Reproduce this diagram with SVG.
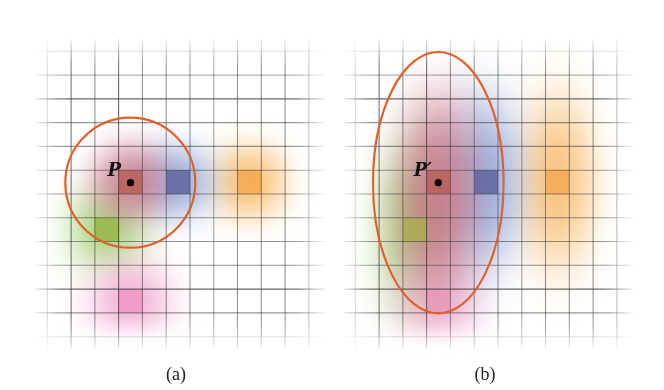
<svg xmlns="http://www.w3.org/2000/svg" width="664" height="390" viewBox="0 0 664 390">
<defs>
<filter id="bA" x="-200%" y="-200%" width="500%" height="500%"><feGaussianBlur stdDeviation="16"/></filter>
<filter id="bA2" x="-200%" y="-200%" width="500%" height="500%"><feGaussianBlur stdDeviation="19"/></filter>
<filter id="bB" x="-200%" y="-200%" width="500%" height="500%"><feGaussianBlur stdDeviation="17 32"/></filter>
<filter id="bB2" x="-200%" y="-200%" width="500%" height="500%"><feGaussianBlur stdDeviation="19 36"/></filter>
<filter id="mb" x="-20%" y="-20%" width="140%" height="140%"><feGaussianBlur stdDeviation="13"/></filter>
<filter id="mb2" x="-20%" y="-20%" width="140%" height="140%"><feGaussianBlur stdDeviation="10"/></filter>
<mask id="mL" maskUnits="userSpaceOnUse" x="0" y="0" width="664" height="390"><rect x="46" y="50" width="266" height="288" fill="#fff" filter="url(#mb)"/></mask>
<mask id="mR" maskUnits="userSpaceOnUse" x="0" y="0" width="664" height="390"><rect x="354" y="50" width="266" height="288" fill="#fff" filter="url(#mb)"/></mask>
<mask id="kL" maskUnits="userSpaceOnUse" x="0" y="0" width="664" height="390"><rect x="44" y="48" width="272" height="285" fill="#fff" filter="url(#mb2)"/></mask>
<mask id="kR" maskUnits="userSpaceOnUse" x="0" y="0" width="664" height="390"><rect x="352" y="48" width="272" height="285" fill="#fff" filter="url(#mb2)"/></mask>
<g id="grid">
<g stroke="#3a3a3a" stroke-width="1.1" fill="none">
<path d="M47.3 39V348" opacity="0.35"/>
<path d="M71.1 39V348" opacity="0.7"/>
<path d="M94.9 39V348" opacity="0.55"/>
<path d="M118.6 39V348" opacity="0.75"/>
<path d="M142.4 39V348" opacity="0.55"/>
<path d="M166.2 39V348" opacity="0.55"/>
<path d="M190 39V348" opacity="0.55"/>
<path d="M213.8 39V348" opacity="0.45"/>
<path d="M237.5 39V348" opacity="0.55"/>
<path d="M261.3 39V348" opacity="0.55"/>
<path d="M285.1 39V348" opacity="0.55"/>
<path d="M308.9 39V348" opacity="0.55"/>
<path d="M36 51.3H325" opacity="0.3"/>
<path d="M36 75.1H325" opacity="0.4"/>
<path d="M36 98.9H325" opacity="0.75"/>
<path d="M36 122.6H325" opacity="0.55"/>
<path d="M36 146.4H325" opacity="0.55"/>
<path d="M36 170.2H325" opacity="0.55"/>
<path d="M36 194H325" opacity="0.55"/>
<path d="M36 217.8H325" opacity="0.55"/>
<path d="M36 241.5H325" opacity="0.55"/>
<path d="M36 265.3H325" opacity="0.55"/>
<path d="M36 289.1H325" opacity="0.75"/>
<path d="M36 312.9H325" opacity="0.55"/>
<path d="M36 336.7H325" opacity="0.3"/>
</g>
</g>
</defs>
<style>
.cap{font-family:"Liberation Serif","DejaVu Serif",serif;font-size:18px;fill:#222}
.lab{font-family:"DejaVu Serif","Liberation Serif",serif;font-size:18px;font-weight:bold;font-style:italic;fill:#111}
.ring{fill:none;stroke:#e0602a;stroke-width:2.2}
</style>
<rect width="664" height="390" fill="#fff"/>

<g id="panel-a">
<g id="blobs-a" mask="url(#kL)">
<circle cx="107" cy="229.7" r="34" fill="#92c858" opacity="0.9" filter="url(#bA2)"/>
<circle cx="130.5" cy="301" r="36" fill="#f0a0cc" opacity="0.9" filter="url(#bA2)"/>
<circle cx="249.4" cy="182.1" r="34" fill="#f8b864" opacity="0.9" filter="url(#bA)"/>
<circle cx="178.1" cy="182.1" r="34" fill="#8aa6dc" opacity="0.85" filter="url(#bA)"/>
<circle cx="130.5" cy="182.1" r="36" fill="#c46a82" opacity="0.8" filter="url(#bA)"/>
</g>
<g id="cells-a">
<rect x="118.6" y="170.2" width="23.8" height="23.8" fill="#b9605a" opacity="0.85"/>
<rect x="166.2" y="170.2" width="23.8" height="23.8" fill="#62649e" opacity="0.85"/>
<rect x="237.5" y="170.2" width="23.8" height="23.8" fill="#f4aa50" opacity="0.85"/>
<rect x="94.9" y="217.8" width="23.8" height="23.8" fill="#98b848" opacity="0.85"/>
<rect x="118.6" y="289.1" width="23.8" height="23.8" fill="#f098c4" opacity="0.85"/>
</g>
<g mask="url(#mL)"><use href="#grid"/></g>
<g id="region-a"><circle class="ring" cx="130.3" cy="182.7" r="65"/></g>
<g id="point-P">
<circle cx="130.5" cy="182.7" r="3.6" fill="#000"/>
<text class="lab" x="121" y="176" text-anchor="end">P</text>
</g>
<text class="cap" x="176" y="380" text-anchor="middle">(a)</text>
</g>

<g id="panel-b">
<g id="blobs-b" mask="url(#kR)">
<ellipse cx="415" cy="229.7" rx="34" ry="72" fill="#92c858" opacity="0.85" filter="url(#bB2)"/>
<ellipse cx="438.5" cy="301" rx="36" ry="60" fill="#f0a0cc" opacity="0.85" filter="url(#bB2)"/>
<ellipse cx="557.4" cy="182.1" rx="34" ry="80" fill="#f8b864" opacity="0.85" filter="url(#bB)"/>
<ellipse cx="486.1" cy="182.1" rx="34" ry="80" fill="#8aa6dc" opacity="0.85" filter="url(#bB)"/>
<ellipse cx="438.5" cy="190" rx="38" ry="90" fill="#c46a82" opacity="0.8" filter="url(#bB)"/>
</g>
<g id="cells-b">
<rect x="426.6" y="170.2" width="23.8" height="23.8" fill="#b9605a" opacity="0.85"/>
<rect x="474.2" y="170.2" width="23.8" height="23.8" fill="#62649e" opacity="0.85"/>
<rect x="545.5" y="170.2" width="23.8" height="23.8" fill="#f4aa50" opacity="0.85"/>
<rect x="402.9" y="217.8" width="23.8" height="23.8" fill="#a8ae50" opacity="0.8"/>
<rect x="426.6" y="289.1" width="23.8" height="23.8" fill="#e898b8" opacity="0.8"/>
</g>
<g mask="url(#mR)"><use href="#grid" x="308"/></g>
<g id="region-b"><ellipse class="ring" cx="438.3" cy="182.7" rx="65.3" ry="130.7"/></g>
<g id="point-P2">
<circle cx="438.3" cy="182.7" r="3.6" fill="#000"/>
<text class="lab" x="432" y="176" text-anchor="end">P′</text>
</g>
<text class="cap" x="485" y="380" text-anchor="middle">(b)</text>
</g>
</svg>
